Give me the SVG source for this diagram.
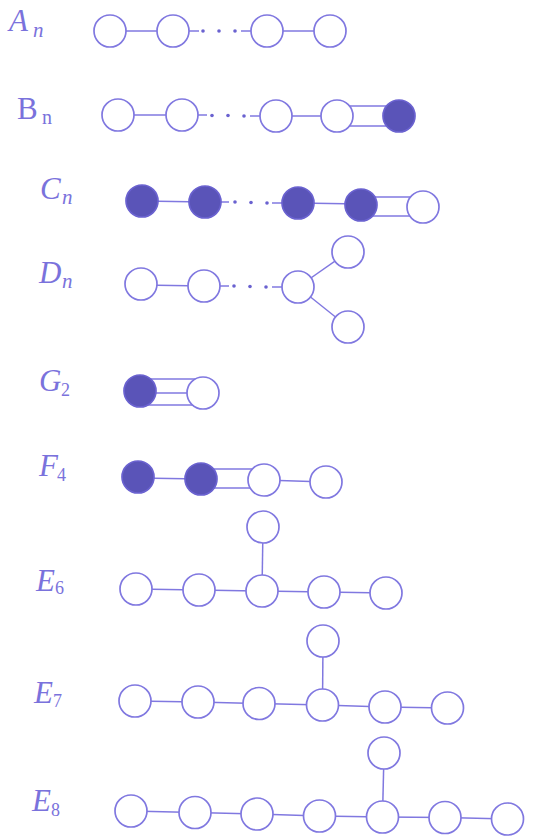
<svg xmlns="http://www.w3.org/2000/svg" width="534" height="839" viewBox="0 0 534 839">
<style>
.n{fill:#ffffff;stroke:#8078e0;stroke-width:1.7}
.f{fill:#5a54b8;stroke:#6a62d0;stroke-width:1.7}
.c line{stroke:#8078e0;stroke-width:1.5}
.d{fill:#6a62d0}
.l{font-family:"Liberation Serif",serif;font-style:italic;fill:#7a72dc;font-size:31px}
.s{font-family:"Liberation Serif",serif;fill:#7a72dc;font-size:18px}
.si{font-family:"Liberation Serif",serif;font-style:italic;fill:#7a72dc;font-size:21px}
</style>
<rect width="534" height="839" fill="#ffffff"/>
<g id="labels">
<text class="l" x="9" y="31">A</text><text class="si" x="33" y="37">n</text>
<text class="l" x="17" y="119" style="font-style:normal">B</text><text class="s" x="42" y="124" style="font-size:20px">n</text>
<text class="l" x="40" y="199">C</text><text class="si" x="62" y="204">n</text>
<text class="l" x="39" y="283">D</text><text class="si" x="62" y="288">n</text>
<text class="l" x="39" y="391">G</text><text class="s" x="61" y="396">2</text>
<text class="l" x="39" y="476">F</text><text class="s" x="57" y="481">4</text>
<text class="l" x="36" y="591">E</text><text class="s" x="55" y="594">6</text>
<text class="l" x="34" y="703">E</text><text class="s" x="53" y="707">7</text>
<text class="l" x="32" y="811">E</text><text class="s" x="51" y="816">8</text>
</g>
<g id="connectors" class="c">
<line x1="110" y1="31" x2="173" y2="31"/>
<line x1="173" y1="31" x2="199" y2="31"/>
<line x1="241" y1="31" x2="267" y2="31"/>
<line x1="267" y1="31" x2="330" y2="31"/>
<line x1="118" y1="115" x2="182" y2="115"/>
<line x1="182" y1="115" x2="207" y2="115"/>
<line x1="250" y1="116" x2="276" y2="116"/>
<line x1="276" y1="116" x2="337" y2="116"/>
<line x1="337" y1="106" x2="399" y2="106"/>
<line x1="337" y1="126" x2="399" y2="126"/>
<line x1="142" y1="201" x2="205" y2="202"/>
<line x1="205" y1="202" x2="229" y2="202"/>
<line x1="272" y1="203" x2="298" y2="203"/>
<line x1="298" y1="203" x2="361" y2="204"/>
<line x1="361" y1="197" x2="423" y2="197"/>
<line x1="361" y1="216" x2="423" y2="216"/>
<line x1="141" y1="285" x2="204" y2="286"/>
<line x1="204" y1="286" x2="229" y2="286"/>
<line x1="272" y1="287" x2="298" y2="287"/>
<line x1="298" y1="287" x2="348" y2="252"/>
<line x1="298" y1="287" x2="348" y2="327"/>
<line x1="140" y1="379" x2="203" y2="379"/>
<line x1="140" y1="393" x2="203" y2="393"/>
<line x1="140" y1="405" x2="203" y2="405"/>
<line x1="138" y1="478" x2="201" y2="479"/>
<line x1="201" y1="469" x2="264" y2="469"/>
<line x1="201" y1="488" x2="264" y2="488"/>
<line x1="264" y1="480" x2="326" y2="482"/>
<line x1="136" y1="589" x2="199" y2="590"/>
<line x1="199" y1="590" x2="262" y2="591"/>
<line x1="262" y1="591" x2="324" y2="592"/>
<line x1="324" y1="592" x2="386" y2="593"/>
<line x1="263" y1="527" x2="262" y2="591"/>
<line x1="135" y1="701" x2="198" y2="702"/>
<line x1="198" y1="702" x2="259" y2="703.5"/>
<line x1="259" y1="703.5" x2="322.5" y2="705"/>
<line x1="322.5" y1="705" x2="385" y2="707"/>
<line x1="385" y1="707" x2="447.5" y2="708"/>
<line x1="323" y1="641" x2="322.5" y2="705"/>
<line x1="131" y1="811" x2="195" y2="812.5"/>
<line x1="195" y1="812.5" x2="257" y2="814"/>
<line x1="257" y1="814" x2="319.5" y2="816"/>
<line x1="319.5" y1="816" x2="382.5" y2="817"/>
<line x1="382.5" y1="817" x2="445" y2="817.5"/>
<line x1="445" y1="817.5" x2="507.5" y2="819"/>
<line x1="384" y1="753" x2="382.5" y2="817"/>
</g>
<g id="dots">
<circle class="d" cx="203" cy="31" r="1.8"/><circle class="d" cx="219" cy="31" r="1.8"/><circle class="d" cx="235" cy="31" r="1.8"/>
<circle class="d" cx="212" cy="115.5" r="1.8"/><circle class="d" cx="228" cy="115.5" r="1.8"/><circle class="d" cx="244" cy="116" r="1.8"/>
<circle class="d" cx="235" cy="202" r="1.8"/><circle class="d" cx="251" cy="202.5" r="1.8"/><circle class="d" cx="267" cy="203" r="1.8"/>
<circle class="d" cx="234" cy="286" r="1.8"/><circle class="d" cx="250" cy="286.5" r="1.8"/><circle class="d" cx="266" cy="287" r="1.8"/>
</g>
<g id="A">
<circle id="A1" class="n" cx="110" cy="31" r="16"/>
<circle id="A2" class="n" cx="173" cy="31" r="16"/>
<circle id="A3" class="n" cx="267" cy="31" r="16"/>
<circle id="A4" class="n" cx="330" cy="31" r="16"/>
</g>
<g id="B">
<circle id="B1" class="n" cx="118" cy="115" r="16"/>
<circle id="B2" class="n" cx="182" cy="115" r="16"/>
<circle id="B3" class="n" cx="276" cy="116" r="16"/>
<circle id="B4" class="n" cx="337" cy="116" r="16"/>
<circle id="B5" class="f" cx="399" cy="116" r="16"/>
</g>
<g id="C">
<circle id="C1" class="f" cx="142" cy="201" r="16"/>
<circle id="C2" class="f" cx="205" cy="202" r="16"/>
<circle id="C3" class="f" cx="298" cy="203" r="16"/>
<circle id="C4" class="f" cx="361" cy="205" r="16"/>
<circle id="C5" class="n" cx="423" cy="207" r="16"/>
</g>
<g id="D">
<circle id="D1" class="n" cx="141" cy="284" r="16"/>
<circle id="D2" class="n" cx="204" cy="286" r="16"/>
<circle id="D3" class="n" cx="298" cy="287" r="16"/>
<circle id="D4" class="n" cx="348" cy="252" r="16"/>
<circle id="D5" class="n" cx="348" cy="327" r="16"/>
</g>
<g id="G">
<circle id="G1" class="f" cx="140" cy="391" r="16"/>
<circle id="G2n" class="n" cx="203" cy="393" r="16"/>
</g>
<g id="F">
<circle id="F1" class="f" cx="138" cy="477" r="16"/>
<circle id="F2" class="f" cx="201" cy="479" r="16"/>
<circle id="F3" class="n" cx="264" cy="480" r="16"/>
<circle id="F4n" class="n" cx="326" cy="482" r="16"/>
</g>
<g id="E6">
<circle class="n" cx="136" cy="589" r="16"/>
<circle class="n" cx="199" cy="590" r="16"/>
<circle class="n" cx="262" cy="591" r="16"/>
<circle class="n" cx="324" cy="592" r="16"/>
<circle class="n" cx="386" cy="593" r="16"/>
<circle class="n" cx="263" cy="527" r="16"/>
</g>
<g id="E7">
<circle class="n" cx="135" cy="701" r="16"/>
<circle class="n" cx="198" cy="702" r="16"/>
<circle class="n" cx="259" cy="703.5" r="16"/>
<circle class="n" cx="322.5" cy="705" r="16"/>
<circle class="n" cx="385" cy="707" r="16"/>
<circle class="n" cx="447.5" cy="708" r="16"/>
<circle class="n" cx="323" cy="641" r="16"/>
</g>
<g id="E8">
<circle class="n" cx="131" cy="811" r="16"/>
<circle class="n" cx="195" cy="812.5" r="16"/>
<circle class="n" cx="257" cy="814" r="16"/>
<circle class="n" cx="319.5" cy="816" r="16"/>
<circle class="n" cx="382.5" cy="817" r="16"/>
<circle class="n" cx="445" cy="817.5" r="16"/>
<circle class="n" cx="507.5" cy="819" r="16"/>
<circle class="n" cx="384" cy="753" r="16"/>
</g>
</svg>
